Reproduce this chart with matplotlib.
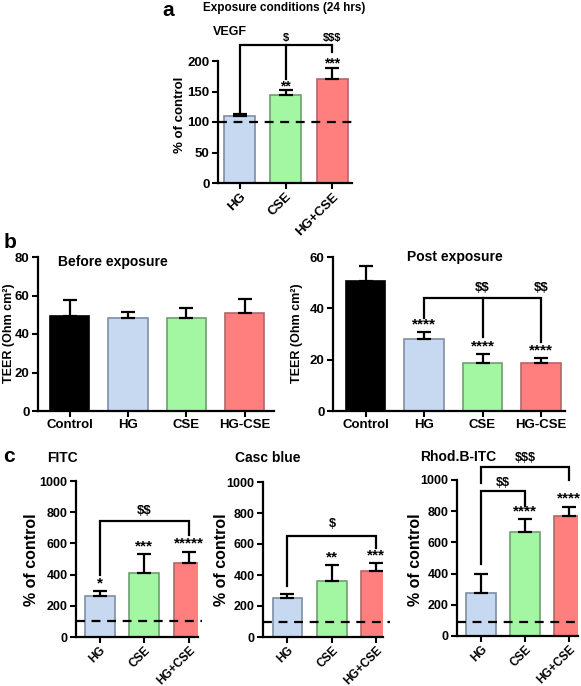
import matplotlib
matplotlib.use("Agg")
import matplotlib.pyplot as plt
from matplotlib import font_manager

# ---------------- data ----------------
groups3 = ["HG", "CSE", "HG+CSE"]
groups4 = ["Control", "HG", "CSE", "HG-CSE"]

vegf_mean = [110, 145, 170]
vegf_err = [3.5, 7, 19]
vegf_stars = ["", "**", "***"]

teer_before_mean = [49.4, 48.2, 48.2, 50.7]
teer_before_err = [8.3, 3.1, 5.5, 7.6]

teer_post_mean = [50.6, 28.0, 18.6, 18.8]
teer_post_err = [6.0, 2.6, 3.6, 1.7]
teer_post_stars = ["", "****", "****", "****"]

fitc_mean = [265, 412, 476]
fitc_err = [30, 118, 71]
fitc_stars = ["*", "***", "*****"]

casc_mean = [250, 363, 426]
casc_err = [25, 102, 53]
casc_stars = ["", "**", "***"]

rhod_mean = [278, 665, 767]
rhod_err = [117, 83, 62]
rhod_stars = ["", "****", "****"]

control_ref = [100, 100, 100, 90]  # VEGF, FITC, Casc, Rhod dashed reference lines

# --------------- styling ---------------
W, H = 581, 686
names = {f.name for f in font_manager.fontManager.ttflist}
FAM = [f for f in ["Liberation Sans Narrow", "Liberation Sans", "DejaVu Sans"] if f in names]
plt.rcParams["font.family"] = FAM
plt.rcParams["font.weight"] = "bold"
plt.rcParams["axes.linewidth"] = 1.6

col3 = ["#c6d9f1", "#a3f7a3", "#ff7f7f"]
edge3 = ["#7f8ea3", "#6f9f6f", "#b06666"]
col4 = ["#000000"] + col3
edge4 = ["#000000"] + edge3

fig = plt.figure(figsize=(W / 100, H / 100), dpi=100)


def ftext(x, y, s, **kw):
    kw.setdefault("fontweight", "bold")
    fig.text(x / W, 1 - y / H, s, parse_math=False, **kw)


def atext(ax, x, y, s, **kw):
    kw.setdefault("fontweight", "bold")
    ax.text(x, y, s, parse_math=False, **kw)


def add_ax(x0, x1, ytop, ybot):
    return fig.add_axes([x0 / W, 1 - ybot / H, (x1 - x0) / W, (ybot - ytop) / H])


def style(ax, ymax, yticks, labels, fs_y, fs_x, rot):
    for s in ["top", "right"]:
        ax.spines[s].set_visible(False)
    ax.set_ylim(0, ymax)
    ax.set_yticks(yticks)
    ax.set_yticklabels([str(t) for t in yticks], fontsize=fs_y, fontweight="bold")
    ax.set_xticks(range(len(labels)))
    if rot:
        ax.set_xticklabels(labels, rotation=45, ha="right", rotation_mode="anchor",
                           fontsize=fs_x, fontweight="bold")
    else:
        ax.set_xticklabels(labels, fontsize=fs_x, fontweight="bold")
    ax.tick_params(axis="y", direction="out", length=4, width=1.5, pad=2)
    ax.tick_params(axis="x", direction="out", length=4, width=1.5, pad=1.5)


def bars(ax, means, errs, colors, edges, width=0.67):
    x = range(len(means))
    ax.bar(x, means, width=width, color=colors, edgecolor=edges, linewidth=1.2, zorder=2)
    ax.errorbar(x, means, yerr=[[0] * len(means), errs], fmt="none", ecolor="black",
                elinewidth=1.6, capsize=5, capthick=1.6, zorder=3)


def stars(ax, means, errs, marks, off, fs=11):
    for i, (m, e, s) in enumerate(zip(means, errs, marks)):
        if s:
            atext(ax, i, m + e + off, s, ha="center", va="bottom", fontsize=fs, zorder=4)


def bracket(ax, x0, x1, ytop, y0, y1, lw=1.6):
    ax.plot([x0, x0, x1, x1], [y0, ytop, ytop, y1], color="black", lw=lw,
            clip_on=False, zorder=4, solid_joinstyle="miter")


def dashed(ax, y, x0, x1):
    ax.plot([x0, x1], [y, y], ls=(0, (4, 3)), color="black", lw=1.6, clip_on=False, zorder=5)


# ---------------- panel a ----------------
axa = add_ax(218, 352, 61, 183)
bars(axa, vegf_mean, vegf_err, col3, edge3)
axa.set_xlim(-0.465, 2.43)
style(axa, 200, [0, 50, 100, 150, 200], groups3, 9.5, 9.5, True)
dashed(axa, control_ref[0], -0.465, 2.55)
stars(axa, vegf_mean, vegf_err, vegf_stars, -5, fs=10)
bracket(axa, 0, 2, 227, 114, 215)
axa.plot([1, 1], [227, 171], color="black", lw=1.6, clip_on=False)
atext(axa, 1, 230, "$", ha="center", va="bottom", fontsize=8)
atext(axa, 2, 230, "$$$", ha="center", va="bottom", fontsize=8)
ftext(180, 115, "% of control", rotation=90, ha="center", va="center", fontsize=9.5)
ftext(213, 32, "VEGF", ha="left", va="center", fontsize=9)
ftext(284, 8, "Exposure conditions (24 hrs)", ha="center", va="center", fontsize=8.5)
ftext(168, 10, "a", ha="center", va="center", fontsize=15)

# ---------------- panel b left ----------------
axb1 = add_ax(38, 274, 257, 411)
bars(axb1, teer_before_mean, teer_before_err, col4, edge4)
axb1.set_xlim(-0.54, 3.5)
style(axb1, 80, [0, 20, 40, 60, 80], groups4, 9.5, 9.5, False)
ftext(9, 333, "TEER (Ohm cm²)", rotation=90, ha="center", va="center", fontsize=9)
ftext(58, 262, "Before exposure", ha="left", va="center", fontsize=10)
ftext(10, 242, "b", ha="center", va="center", fontsize=15)

# ---------------- panel b right ----------------
axb2 = add_ax(333, 565, 257, 411)
bars(axb2, teer_post_mean, teer_post_err, col4, edge4)
axb2.set_xlim(-0.556, 3.41)
style(axb2, 60, [0, 20, 40, 60], groups4, 9.5, 9.5, False)
stars(axb2, teer_post_mean, teer_post_err, teer_post_stars, 0.2)
bracket(axb2, 1, 3, 44, 36.2, 27)
axb2.plot([2, 2], [44, 29], color="black", lw=1.6, clip_on=False)
atext(axb2, 2, 45.5, "$$", ha="center", va="bottom", fontsize=9.5)
atext(axb2, 3, 45.5, "$$", ha="center", va="bottom", fontsize=9.5)
ftext(297, 333, "TEER (Ohm cm²)", rotation=90, ha="center", va="center", fontsize=9)
ftext(407, 257, "Post exposure", ha="left", va="center", fontsize=10)

# ---------------- panel c ----------------
cticks = [0, 200, 400, 600, 800, 1000]

axc1 = add_ax(76, 198, 481, 637)
bars(axc1, fitc_mean, fitc_err, col3, edge3)
axc1.set_xlim(-0.53, 2.2)
style(axc1, 1000, cticks, groups3, 9, 8.5, True)
dashed(axc1, control_ref[1], -0.53, 2.3)
stars(axc1, fitc_mean, fitc_err, fitc_stars, 5)
bracket(axc1, 0, 2, 745, 397, 654)
atext(axc1, 1, 770, "$$", ha="center", va="bottom", fontsize=9.5)
ftext(32, 560, "% of control", rotation=90, ha="center", va="center", fontsize=11.5)
ftext(47, 458, "FITC", ha="left", va="center", fontsize=10)
ftext(9, 456, "c", ha="center", va="center", fontsize=15)

axc2 = add_ax(263, 383, 482, 637)
bars(axc2, casc_mean, casc_err, col3, edge3)
axc2.set_xlim(-0.55, 2.15)
style(axc2, 1000, cticks, groups3, 9, 8.5, True)
dashed(axc2, control_ref[2], -0.55, 2.3)
stars(axc2, casc_mean, casc_err, casc_stars, 5)
bracket(axc2, 0, 2, 652, 331, 572)
atext(axc2, 1, 690, "$", ha="center", va="bottom", fontsize=9)
ftext(221, 560, "% of control", rotation=90, ha="center", va="center", fontsize=11.5)
ftext(235, 458, "Casc blue", ha="left", va="center", fontsize=10)

axc3 = add_ax(457, 578, 480, 636)
bars(axc3, rhod_mean, rhod_err, col3, edge3)
axc3.set_xlim(-0.55, 2.2)
style(axc3, 1000, cticks, groups3, 9, 8.5, True)
dashed(axc3, control_ref[3], -0.55, 2.3)
stars(axc3, rhod_mean, rhod_err, rhod_stars, 5)
bracket(axc3, 0, 1, 930, 460, 835)
atext(axc3, 0.5, 945, "$$", ha="center", va="bottom", fontsize=9)
bracket(axc3, 0, 2, 1083, 980, 1000)
atext(axc3, 1, 1100, "$$$", ha="center", va="bottom", fontsize=9)
ftext(415, 560, "% of control", rotation=90, ha="center", va="center", fontsize=11.5)
ftext(420, 457, "Rhod.B-ITC", ha="left", va="center", fontsize=10)

fig.savefig("out.png", dpi=100, facecolor="white")
